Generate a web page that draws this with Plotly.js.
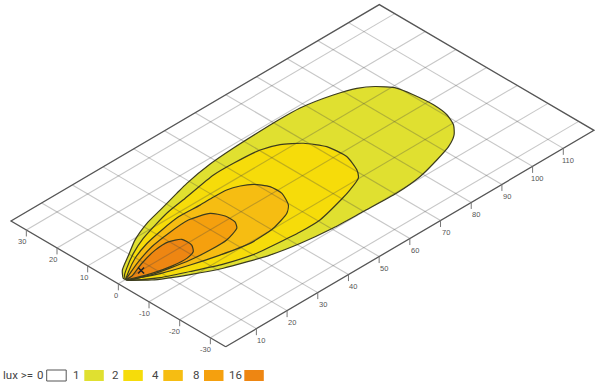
<!DOCTYPE html>
<html>
<head>
<meta charset="utf-8">
<script src="https://cdn.plot.ly/plotly-3.0.1.min.js"></script>
<style>html,body{margin:0;padding:0;background:#fff}#chart{width:600px;height:385px}</style>
</head>
<body>
<div id="chart"></div>
<script>
// Illuminance contours in ground coordinates (distance, lateral offset)
const lux1X = [2.4,2.3,4.45,9.6,14.85,21.45,27.25,34.6,39.05,48.2,56.45,64.35,71,78.4,87.4,93.1,96.6,99.6,100.5,101,100.4,98.7,96,91.9,86.3,78.9,70.5,59.9,50.45,40.75,32.65,21.4,14.25,6.5,2.4];
const lux1Y = [-0.1,0.7,3.15,6.3,9.45,12.15,13.65,15.6,16.75,18.3,18.95,19.25,19.4,19.2,17.4,15.4,12.9,9,4.4,-1.7,-6.65,-10.5,-13.4,-15.75,-17.55,-19.45,-20.25,-19.9,-19.55,-18.45,-16.75,-12.8,-9.15,-4.4,-0.1];
const lux2X = [2.4,3.4,5.65,10.9,16.65,22.3,28.15,34.55,45.7,52.2,60.25,65,69.15,72,72.5,70.45,68.4,63.8,59.9,50.55,43.95,35.8,31,22.55,15.1,8.5,2.4];
const lux2Y = [-0.1,1.4,2.95,6,8.55,10.3,11.85,12.85,14.7,14.7,14.05,12.3,8.85,4.1,-1.9,-7.25,-9.8,-11.7,-12.9,-15.15,-15.25,-14.6,-14.1,-11.65,-8.3,-5.1,-0.1];
const lux4X = [2.4,5,9.75,15.85,21.95,28.4,35.15,39.6,43.7,47,49.6,51.65,51.75,49.55,47,40.65,32.65,24.5,16.9,9.65,5.25,2.4];
const lux4Y = [-0.1,1.7,4.35,6.55,7.85,8.8,8.55,8.6,8.4,7.3,5.6,2.25,-1.55,-5.85,-7.9,-9.85,-10.25,-8.6,-6.5,-4,-1.85,-0.1];
const lux8X = [2.4,4.8,9.35,15.75,22.15,29.1,34.5,36.2,36.15,34.75,29.8,24.3,18.3,12.75,7.55,2.4];
const lux8Y = [-0.1,1,2.85,4.85,5.85,6.3,4.6,1.4,-1.85,-3.85,-5.5,-5.6,-5.1,-4.05,-2.75,-0.1];
const lux16X = [2.4,4.35,9.45,15.35,19.8,22.7,22.7,21.1,18.2,13.6,8.35,2.4];
const lux16Y = [-0.1,-0.05,1.85,3.35,3.5,2,-1.2,-3.3,-4.1,-3.8,-2.55,-0.1];
const markerX = [7.4];
const markerY = [0];

const distanceTicks = [10,20,30,40,50,60,70,80,90,100,110];
const lateralTicks = [-30,-20,-10,0,10,20,30];
const distanceRange = [0,120];
const lateralRange = [-35,35];

const legendLabels = ["0","1","2","4","8","16"];
const legendColors = ["#ffffff","#e0e030","#f6dc0a","#f6bd12","#f5a00e","#ee8612"];
const legendTitle = "lux >=";

// Oblique ground-plane view onto the flat page
const origin = [225.7, 346.7];
const project = (d, l) => [
  origin[0] + 3.069 * d - 3.067 * (l - lateralRange[0]),
  origin[1] - 1.803 * d - 1.796 * (l - lateralRange[0])
];
const px = (ds, ls) => ds.map((d, i) => project(d, ls[i])[0]);
const py = (ds, ls) => ds.map((d, i) => project(d, ls[i])[1]);

const traces = [];
const contours = [[lux1X,lux1Y,1],[lux2X,lux2Y,2],[lux4X,lux4Y,3],[lux8X,lux8Y,4],[lux16X,lux16Y,5]];
const spline = {shape:"spline",smoothing:0.6};
// fills
contours.forEach(([X,Y,c]) => traces.push({
  type:"scatter", mode:"lines", x:px(X,Y), y:py(X,Y), fill:"toself",
  fillcolor:legendColors[c], line:{width:0,...spline}, hoverinfo:"skip"
}));
// grid
const gx=[],gy=[];
const seg=(d0,l0,d1,l1)=>{const a=project(d0,l0),b=project(d1,l1);gx.push(a[0],b[0],null);gy.push(a[1],b[1],null);};
distanceTicks.forEach(d=>seg(d,lateralRange[0],d,lateralRange[1]));
lateralTicks.forEach(l=>seg(distanceRange[0],l,distanceRange[1],l));
traces.push({type:"scatter",mode:"lines",x:gx,y:gy,line:{color:"rgba(70,70,70,0.3)",width:1.1},hoverinfo:"skip"});
// contour outlines
contours.forEach(([X,Y]) => traces.push({
  type:"scatter", mode:"lines", x:px(X,Y), y:py(X,Y),
  line:{color:"#3c3c1e",width:1.2,...spline}, hoverinfo:"skip"
}));
// frame
const fd=[distanceRange[0],distanceRange[0],distanceRange[1],distanceRange[1],distanceRange[0]];
const fl=[lateralRange[0],lateralRange[1],lateralRange[1],lateralRange[0],lateralRange[0]];
traces.push({type:"scatter",mode:"lines",x:px(fd,fl),y:py(fd,fl),line:{color:"#555",width:1.3},hoverinfo:"skip"});
// ticks
const tx=[],ty=[];
const tick=(p)=>{tx.push(p[0],p[0],null);ty.push(p[1],p[1]+6.5,null);};
distanceTicks.forEach(d=>tick(project(d,lateralRange[0])));
lateralTicks.forEach(l=>tick(project(distanceRange[0],l)));
traces.push({type:"scatter",mode:"lines",x:tx,y:ty,line:{color:"#777",width:1},hoverinfo:"skip"});
// marker
traces.push({type:"scatter",mode:"markers",x:px(markerX,markerY),y:py(markerX,markerY),
  marker:{symbol:"x-thin",size:6,line:{color:"#222",width:1.5}},hoverinfo:"skip"});

const tickFont={family:"Liberation Sans, Arial, sans-serif",size:7.5,color:"#555"};
const annotations=[];
const lab=(x,y,t,font,anchor)=>annotations.push({x,y,text:t,showarrow:false,font,xanchor:anchor||"center",yanchor:"middle",xref:"x",yref:"y"});
distanceTicks.forEach(d=>{const p=project(d,lateralRange[0]);lab(p[0]+5,p[1]+12,String(d),tickFont);});
lateralTicks.forEach(l=>{const p=project(distanceRange[0],l);lab(p[0]+(l>0?-4:l===0?-2:-5),p[1]+11.5,String(l),tickFont);});

// legend row
const legFont={family:"Liberation Sans Narrow, Roboto, sans-serif",size:11.5,color:"#444"};
const boxLeft=[46.7,84.3,123.3,163.3,204,244.3];
const labelMid=[39.5,76,115,155.5,195.5,235.7];
const shapes=[];
legendLabels.forEach((t,i)=>{
  shapes.push({type:"rect",xref:"x",yref:"y",x0:boxLeft[i],x1:boxLeft[i]+19.5,y0:370,y1:381,
    fillcolor:legendColors[i],line:i===0?{color:"#555",width:1}:{width:0}});
  lab(labelMid[i],375,t,legFont);
});
lab(1,375,legendTitle,legFont,"left");

Plotly.newPlot("chart",traces,{
  width:600,height:385,margin:{l:0,r:0,t:0,b:0},showlegend:false,
  paper_bgcolor:"#fff",plot_bgcolor:"#fff",
  xaxis:{range:[0,600],visible:false,fixedrange:true},
  yaxis:{range:[385,0],visible:false,fixedrange:true},
  shapes,annotations
},{displayModeBar:false,staticPlot:true});
</script>
</body>
</html>
